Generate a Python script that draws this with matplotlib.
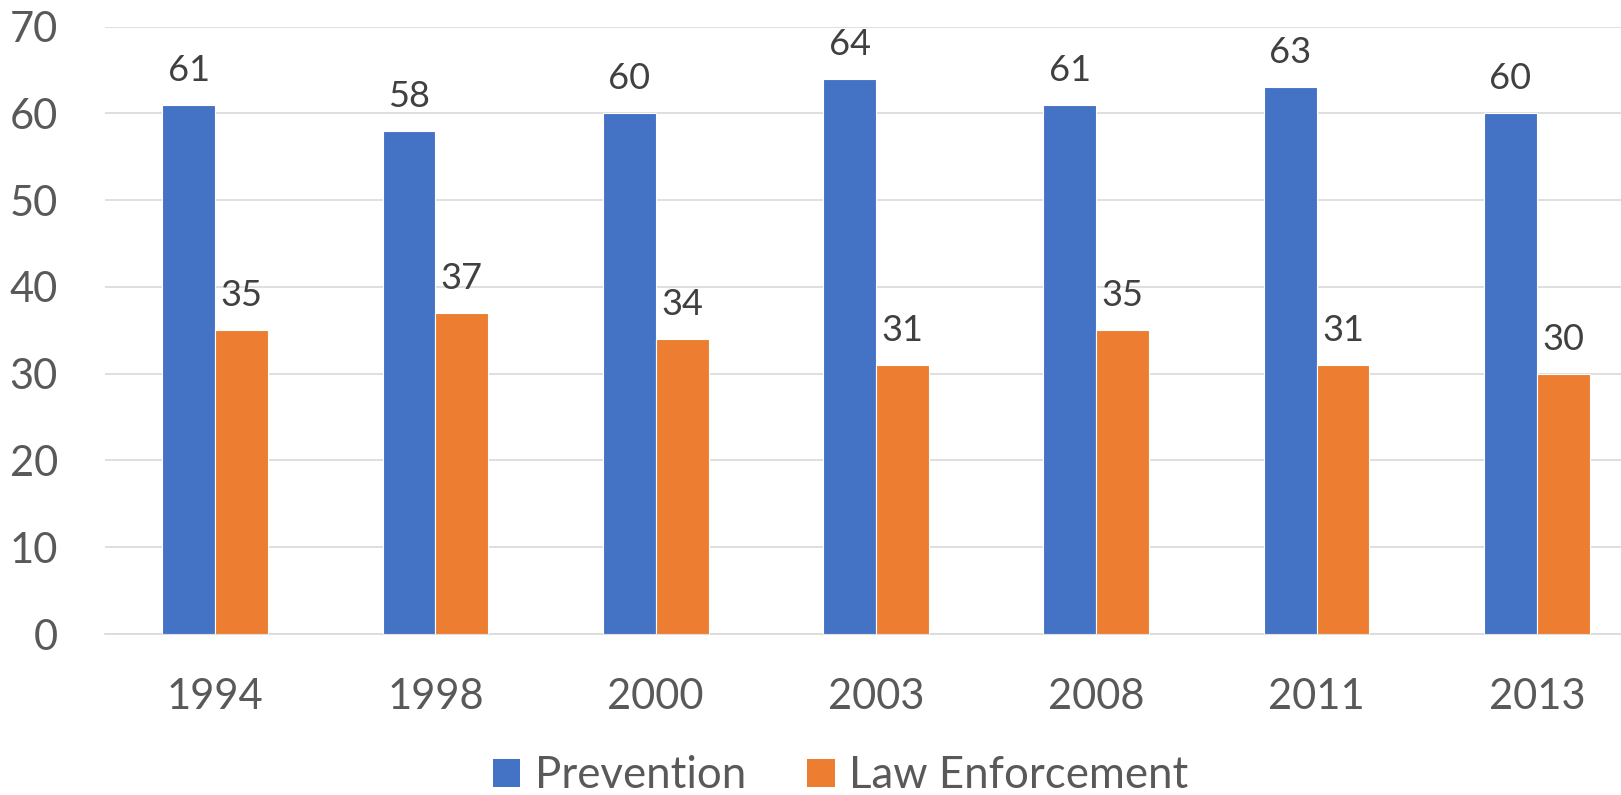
import matplotlib
matplotlib.use("Agg")
import matplotlib.pyplot as plt
from matplotlib.patches import Patch
import numpy as np

years = ["1994", "1998", "2000", "2003", "2008", "2011", "2013"]
prevention = [61, 58, 60, 64, 61, 63, 60]
law_enforcement = [35, 37, 34, 31, 35, 31, 30]
series_names = ["Prevention", "Law Enforcement"]
colors = ["#4472C4", "#ED7D31"]

plt.rcParams['font.family'] = ['Lato', 'DejaVu Sans']

W, H = 1621, 795
fig = plt.figure(figsize=(W / 100, H / 100), dpi=100)
ax = fig.add_axes([105 / W, 161 / H, (1647 - 105) / W, (634 - 26.7) / H])

x = np.arange(len(years))
bw = 0.24
b1 = ax.bar(x - bw / 2, prevention, bw, color=colors[0], edgecolor="white", linewidth=0.8, zorder=3)
b2 = ax.bar(x + bw / 2, law_enforcement, bw, color=colors[1], edgecolor="white", linewidth=0.8, zorder=3)

for bars, vals in ((b1, prevention), (b2, law_enforcement)):
    for r, v in zip(bars, vals):
        ax.annotate(str(v), (r.get_x() + r.get_width() / 2, v), xytext=(0, 13),
                    textcoords="offset points", ha="center", va="bottom",
                    fontsize=26, color="#404040")

ax.set_xlim(-0.5, len(years) - 0.5)
ax.set_ylim(0, 70)
ax.set_yticks(range(0, 71, 10))
ax.set_xticks(x)
ax.set_xticklabels(years)
ax.yaxis.grid(True, color="#D9D9D9", linewidth=1.2, zorder=0)
ax.set_axisbelow(True)
for s in ("top", "right", "left"):
    ax.spines[s].set_visible(False)
ax.spines["bottom"].set_color("#D9D9D9")
ax.spines["bottom"].set_linewidth(1.2)
ax.tick_params(axis="both", length=0, labelsize=30, labelcolor="#595959")
ax.tick_params(axis="y", pad=34)
ax.tick_params(axis="x", pad=32)

handles = [Patch(facecolor=c, edgecolor="none") for c in colors]
fig.legend(handles, series_names, loc="center", bbox_to_anchor=(841 / W, 19 / H),
           ncol=2, frameon=False, fontsize=31.5, labelcolor="#595959",
           handlelength=0.62, handleheight=0.62, handletextpad=0.34,
           columnspacing=1.39, borderpad=0, borderaxespad=0)

fig.savefig("out.png", dpi=100)
